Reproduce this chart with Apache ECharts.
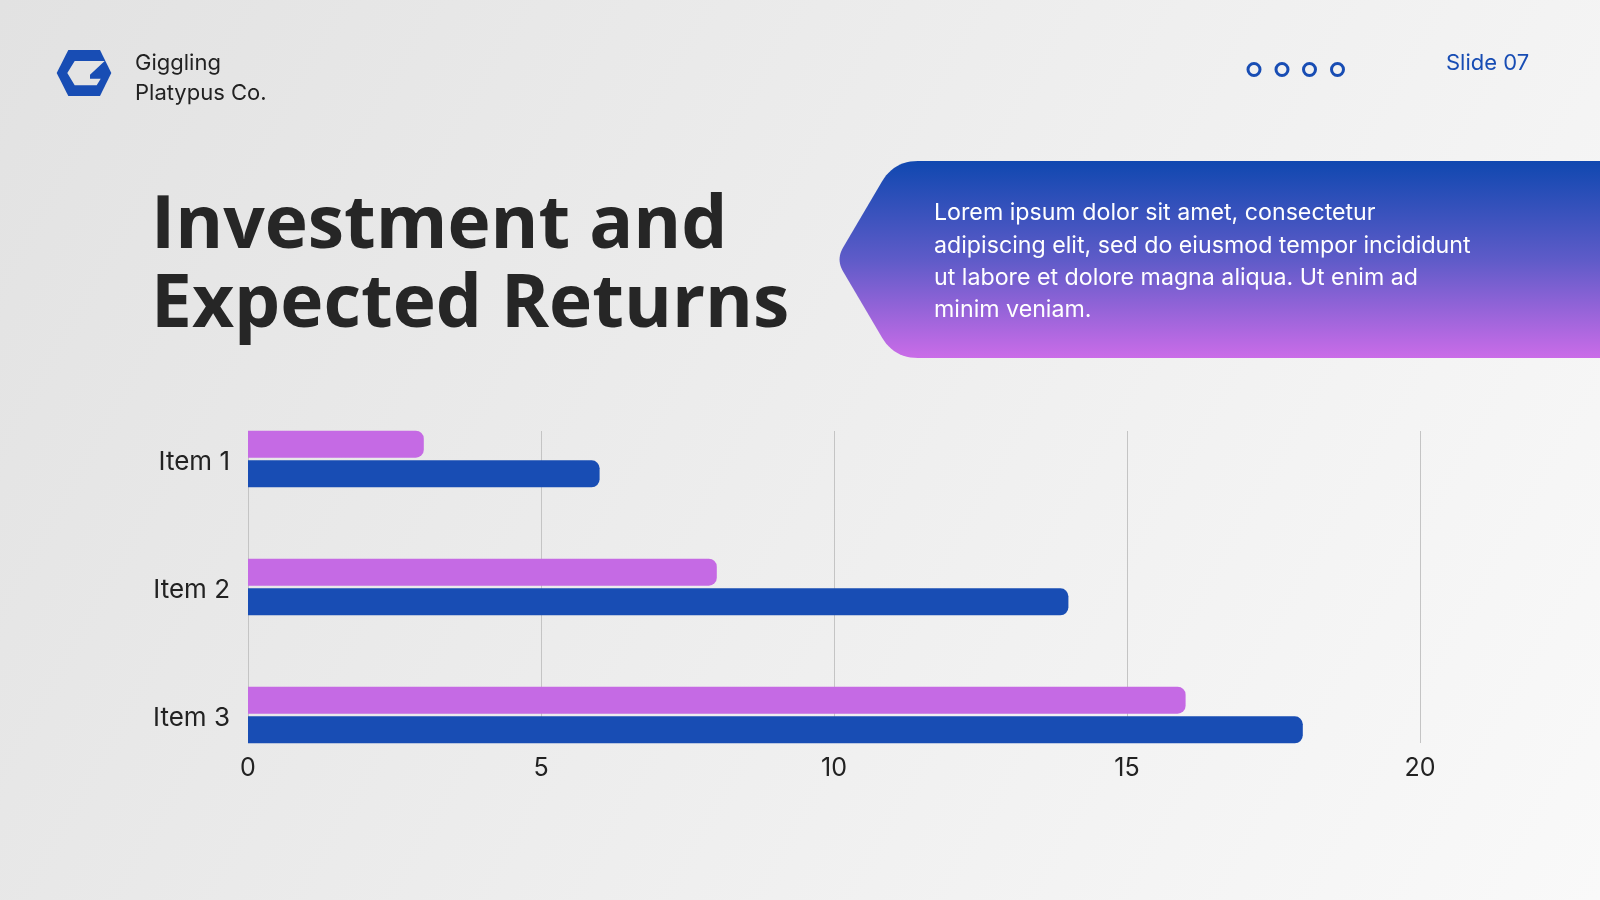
<!DOCTYPE html>
<html>
<head>
<meta charset="utf-8">
<script src="https://cdn.jsdelivr.net/npm/echarts@6/dist/echarts.min.js"></script>
<style>
html,body{margin:0;padding:0;background:#ececec;}
#chart{width:1600px;height:900px;}
</style>
</head>
<body>
<div id="chart"></div>
<script>
// ---- data ----
const categories = ['Item 1', 'Item 2', 'Item 3'];
const seriesAValues = [3, 8, 16];   // purple bars
const seriesBValues = [6, 14, 18];  // blue bars
const xMin = 0, xMax = 20, xInterval = 5;

const companyLines = ['Giggling', 'Platypus Co.'];
const slideLabel = 'Slide 07';
const titleLines = ['Investment and', 'Expected Returns'];
const calloutText = 'Lorem ipsum dolor sit amet, consectetur\nadipiscing elit, sed do eiusmod tempor incididunt\nut labore et dolore magna aliqua. Ut enim ad\nminim veniam.';

const BLUE = '#184DB4';
const PURPLE = '#C56AE4';
const TEXT = '#222222';

// rounded polygon helper (layout only)
function roundedPoly(pts, radii) {
  const out = [];
  const n = pts.length;
  for (let i = 0; i < n; i++) {
    const p = pts[i], prev = pts[(i - 1 + n) % n], next = pts[(i + 1) % n];
    const r = radii[i];
    if (!r) { out.push(p); continue; }
    const d1x = prev[0] - p[0], d1y = prev[1] - p[1];
    const d2x = next[0] - p[0], d2y = next[1] - p[1];
    const l1 = Math.hypot(d1x, d1y), l2 = Math.hypot(d2x, d2y);
    const a = [p[0] + d1x / l1 * r, p[1] + d1y / l1 * r];
    const b = [p[0] + d2x / l2 * r, p[1] + d2y / l2 * r];
    for (let k = 0; k <= 12; k++) {
      const t = k / 12, u = 1 - t;
      out.push([u*u*a[0] + 2*u*t*p[0] + t*t*b[0], u*u*a[1] + 2*u*t*p[1] + t*t*b[1]]);
    }
  }
  return out;
}

const chart = echarts.init(document.getElementById('chart'), null, {renderer: 'canvas'});

const dots = [1254, 1282, 1309.5, 1337.5].map(cx => ({
  type: 'circle', shape: {cx: cx, cy: 69.5, r: 6},
  style: {fill: 'none', stroke: BLUE, lineWidth: 3}
}));

const calloutPts = roundedPoly([[1600,161],[894,161],[836,259.5],[894,358],[1600,358]], [0, 24, 14, 24, 0]);

const option = {
  backgroundColor: {
    type: 'linear', x: 0, y: 0, x2: 1, y2: 1,
    colorStops: [{offset: 0, color: '#e2e2e2'}, {offset: 1, color: '#f9f9f9'}]
  },
  animation: false,
  grid: [
    {left: 248, right: 180, top: 431, bottom: 157},
    {left: 248, right: 180, top: 395, bottom: 121}
  ],
  xAxis: [
    {
      gridIndex: 0, type: 'value', min: xMin, max: xMax, interval: xInterval,
      axisLine: {show: false}, axisTick: {show: false},
      splitLine: {show: true, lineStyle: {color: '#c4c4c4', width: 1}},
      axisLabel: {color: TEXT, fontSize: 25, fontFamily: 'Inter', margin: 13}
    },
    {
      gridIndex: 1, type: 'value', min: xMin, max: xMax, interval: xInterval, show: false
    }
  ],
  yAxis: [
    {gridIndex: 0, type: 'value', min: 0, max: 1, show: false},
    {
      gridIndex: 1, type: 'category', data: categories, inverse: true,
      axisLine: {show: false}, axisTick: {show: false}, splitLine: {show: false},
      axisLabel: {
        margin: 18,
        formatter: v => '{a|' + v + '}',
        rich: {a: {color: TEXT, fontSize: 26, fontFamily: 'Inter', padding: [7, 0, 0, 0]}}
      }
    }
  ],
  series: [
    {
      name: 'Series A', type: 'bar', xAxisIndex: 1, yAxisIndex: 1,
      data: seriesAValues, barWidth: 27, barGap: '10%',
      itemStyle: {color: PURPLE, borderRadius: [0, 8, 8, 0]}
    },
    {
      name: 'Series B', type: 'bar', xAxisIndex: 1, yAxisIndex: 1,
      data: seriesBValues, barWidth: 27, barGap: '10%',
      itemStyle: {color: BLUE, borderRadius: [0, 8, 8, 0]}
    }
  ],
  graphic: [
    // logo hexagon
    {type: 'polygon', shape: {points: [[56.7,73],[68.3,50],[100,50],[111.3,73],[100,96],[68.3,96]]},
     style: {fill: BLUE}},
    {type: 'polygon', shape: {points: [[67.3,73],[74.7,61],[104.7,61],[90,74.7],[90,78.7],[100.7,78.7],[96.7,85.3],[74.7,85.3]]},
     style: {fill: '#e4e4e4'}},
    {type: 'text', x: 135, y: 63, style: {text: companyLines[0], fill: TEXT, fontSize: 22, fontFamily: 'Inter', verticalAlign: 'middle'}},
    {type: 'text', x: 135, y: 93.5, style: {text: companyLines[1], fill: TEXT, fontSize: 22, fontFamily: 'Inter', verticalAlign: 'middle'}},
    ...dots,
    {type: 'text', x: 1446, y: 63, style: {text: slideLabel, fill: BLUE, fontSize: 22, fontFamily: 'Inter', verticalAlign: 'middle'}},
    // title
    {type: 'text', x: 151, y: 227.5, style: {text: titleLines[0], fill: '#262626', fontSize: 73, fontWeight: 700, fontFamily: '"Open Sans"', verticalAlign: 'middle'}},
    {type: 'text', x: 151, y: 306, style: {text: titleLines[1], fill: '#262626', fontSize: 73, fontWeight: 700, fontFamily: '"Open Sans"', verticalAlign: 'middle'}},
    // callout
    {type: 'polygon', shape: {points: calloutPts},
     style: {fill: {type: 'linear', x: 0, y: 0, x2: 0, y2: 1,
       colorStops: [{offset: 0, color: '#1048B0'}, {offset: 0.5, color: '#5E5BC8'}, {offset: 1, color: '#CA6CE8'}]}}},
    {type: 'text', x: 934, y: 197, style: {text: calloutText, fill: '#ffffff', fontSize: 23.2, lineHeight: 32.4, fontFamily: 'Inter', verticalAlign: 'top'}}
  ]
};
chart.setOption(option);
</script>
</body>
</html>
